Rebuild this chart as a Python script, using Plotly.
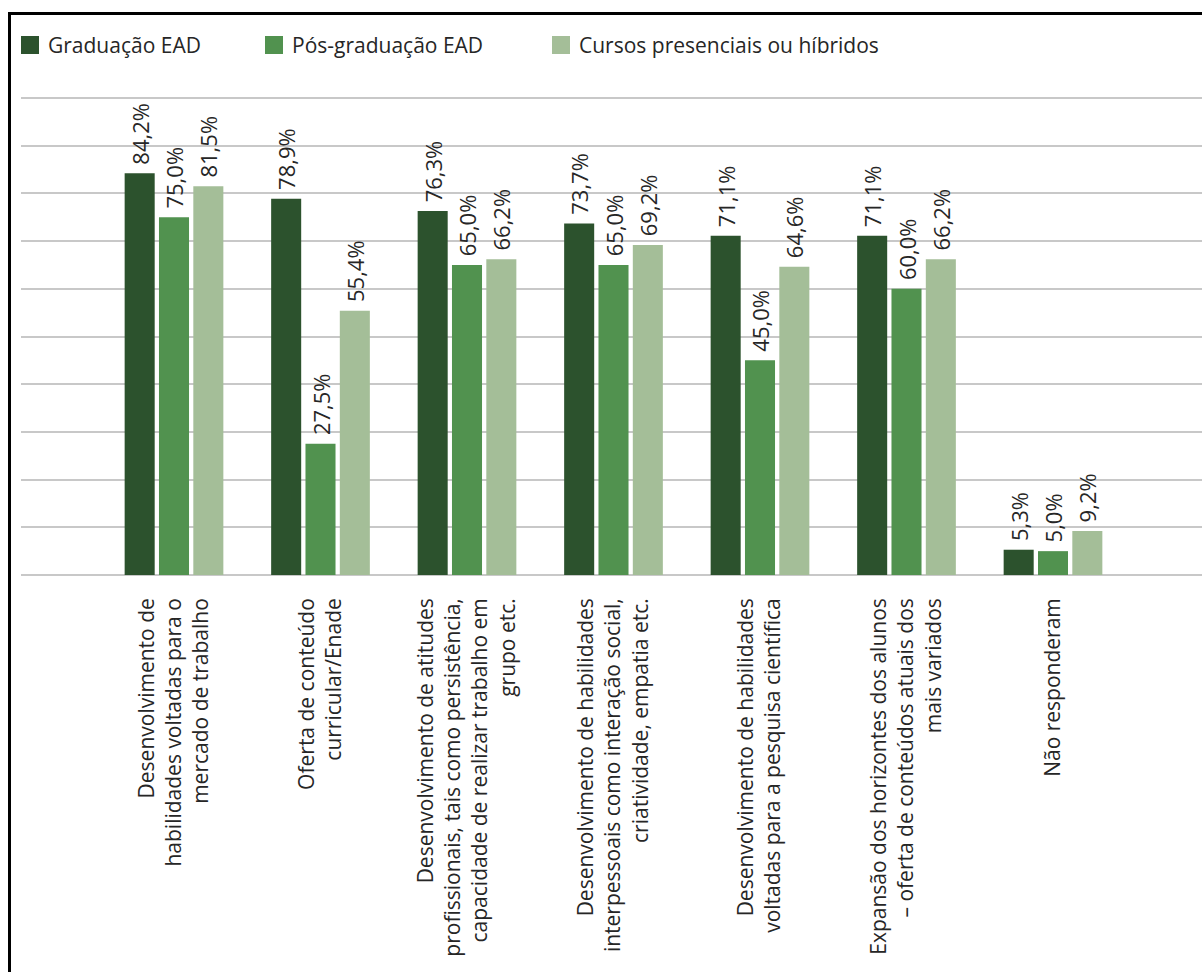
import plotly.graph_objects as go

# Categories (axis labels, with manual line breaks)
categories = [
    "Desenvolvimento de<br>habilidades voltadas para o<br>mercado de trabalho",
    "Oferta de conteúdo<br>curricular/Enade",
    "Desenvolvimento de atitudes<br>profissionais, tais como persistência,<br>capacidade de realizar trabalho em<br>grupo etc.",
    "Desenvolvimento de habilidades<br>interpessoais como interação social,<br>criatividade, empatia etc.",
    "Desenvolvimento de habilidades<br>voltadas para a pesquisa científica",
    "Expansão dos horizontes dos alunos<br>– oferta de conteúdos atuais dos<br>mais variados",
    "Não responderam",
]

series_names = ["Graduação EAD", "Pós-graduação EAD", "Cursos presenciais ou híbridos"]
graduacao_ead = [84.2, 78.9, 76.3, 73.7, 71.1, 71.1, 5.3]
pos_graduacao_ead = [75.0, 27.5, 65.0, 65.0, 45.0, 60.0, 5.0]
presenciais_hibridos = [81.5, 55.4, 66.2, 69.2, 64.6, 66.2, 9.2]
series_values = [graduacao_ead, pos_graduacao_ead, presenciais_hibridos]
colors = ["#2c522d", "#51924f", "#a4be98"]

FONT = "Open Sans, Noto Sans, sans-serif"
TEXT_COLOR = "#262626"

W, H = 1202, 972
ML, MR, MT, MB = 21, 0, 94, 397
plot_w = W - ML - MR
plot_h = H - MT - MB

# vertical scale: 0 % at the baseline, 100 % on the top gridline (98 px)
px_per_unit = (H - MB - 98) / 100.0
y_top = 100.0 + (98 - MT) / px_per_unit

# category spacing in pixels and first category center
step_px = 146.5
first_px = 174.0
x_lo = (ML - first_px) / step_px
x_hi = (W - MR - first_px) / step_px

xs = list(range(len(categories)))


def pct(v):
    # leading no-break space keeps the label clear of the bar top
    return "\u00a0" + f"{v:.1f}".replace(".", ",") + "%"


fig = go.Figure()
for name, vals, col in zip(series_names, series_values, colors):
    fig.add_trace(go.Bar(
        x=xs, y=vals, name=name,
        marker=dict(color=col, line=dict(width=0)),
        text=[pct(v) for v in vals],
        textposition="outside",
        textangle=-90,
        constraintext="none",
        cliponaxis=False,
        textfont=dict(family=FONT, size=22, color=TEXT_COLOR),
        showlegend=False,
    ))


def px_to_paper_x(px):
    return (px - ML) / plot_w


def px_to_paper_y(py):
    return (H - MB - py) / plot_h


shapes = []
annotations = []

# legend: squares with labels
legend_x = [21, 265, 552]
sq = 18
ly = 45
for name, col, lx in zip(series_names, colors, legend_x):
    shapes.append(dict(
        type="rect", xref="paper", yref="paper",
        x0=px_to_paper_x(lx), x1=px_to_paper_x(lx + sq),
        y0=px_to_paper_y(ly + sq / 2), y1=px_to_paper_y(ly - sq / 2),
        fillcolor=col, line=dict(width=0),
    ))
    annotations.append(dict(
        text=name, xref="paper", yref="paper",
        x=px_to_paper_x(lx + sq + 7), y=px_to_paper_y(ly),
        xanchor="left", yanchor="middle", showarrow=False,
        font=dict(family=FONT, size=21, color=TEXT_COLOR),
    ))

# frame lines (left and top)
shapes.append(dict(
    type="line", xref="paper", yref="paper",
    x0=px_to_paper_x(9.5), x1=px_to_paper_x(9.5),
    y0=px_to_paper_y(H + 5), y1=px_to_paper_y(12),
    line=dict(color="black", width=3),
))
shapes.append(dict(
    type="line", xref="paper", yref="paper",
    x0=px_to_paper_x(8), x1=px_to_paper_x(W + 5),
    y0=px_to_paper_y(13.5), y1=px_to_paper_y(13.5),
    line=dict(color="black", width=3),
))

fig.update_layout(
    width=W, height=H,
    margin=dict(l=ML, r=MR, t=MT, b=MB, pad=0),
    paper_bgcolor="white", plot_bgcolor="white",
    barmode="group", bargap=0.297, bargroupgap=0.125,
    font=dict(family=FONT, color=TEXT_COLOR),
    shapes=shapes, annotations=annotations,
    showlegend=False,
)
fig.update_xaxes(
    range=[x_lo, x_hi], tickmode="array", tickvals=xs, ticktext=categories,
    tickangle=-90, ticks="", showgrid=False, zeroline=False, showline=False,
    tickfont=dict(family=FONT, size=21, color=TEXT_COLOR),
    ticklabelstandoff=18,
)
fig.update_yaxes(
    range=[0, y_top], tickmode="linear", tick0=0, dtick=10,
    showticklabels=False, ticks="",
    showgrid=True, gridcolor="#c8c8c8", gridwidth=1.5,
    zeroline=True, zerolinecolor="#c8c8c8", zerolinewidth=1.5, showline=False,
)

fig.write_html("out.html")
